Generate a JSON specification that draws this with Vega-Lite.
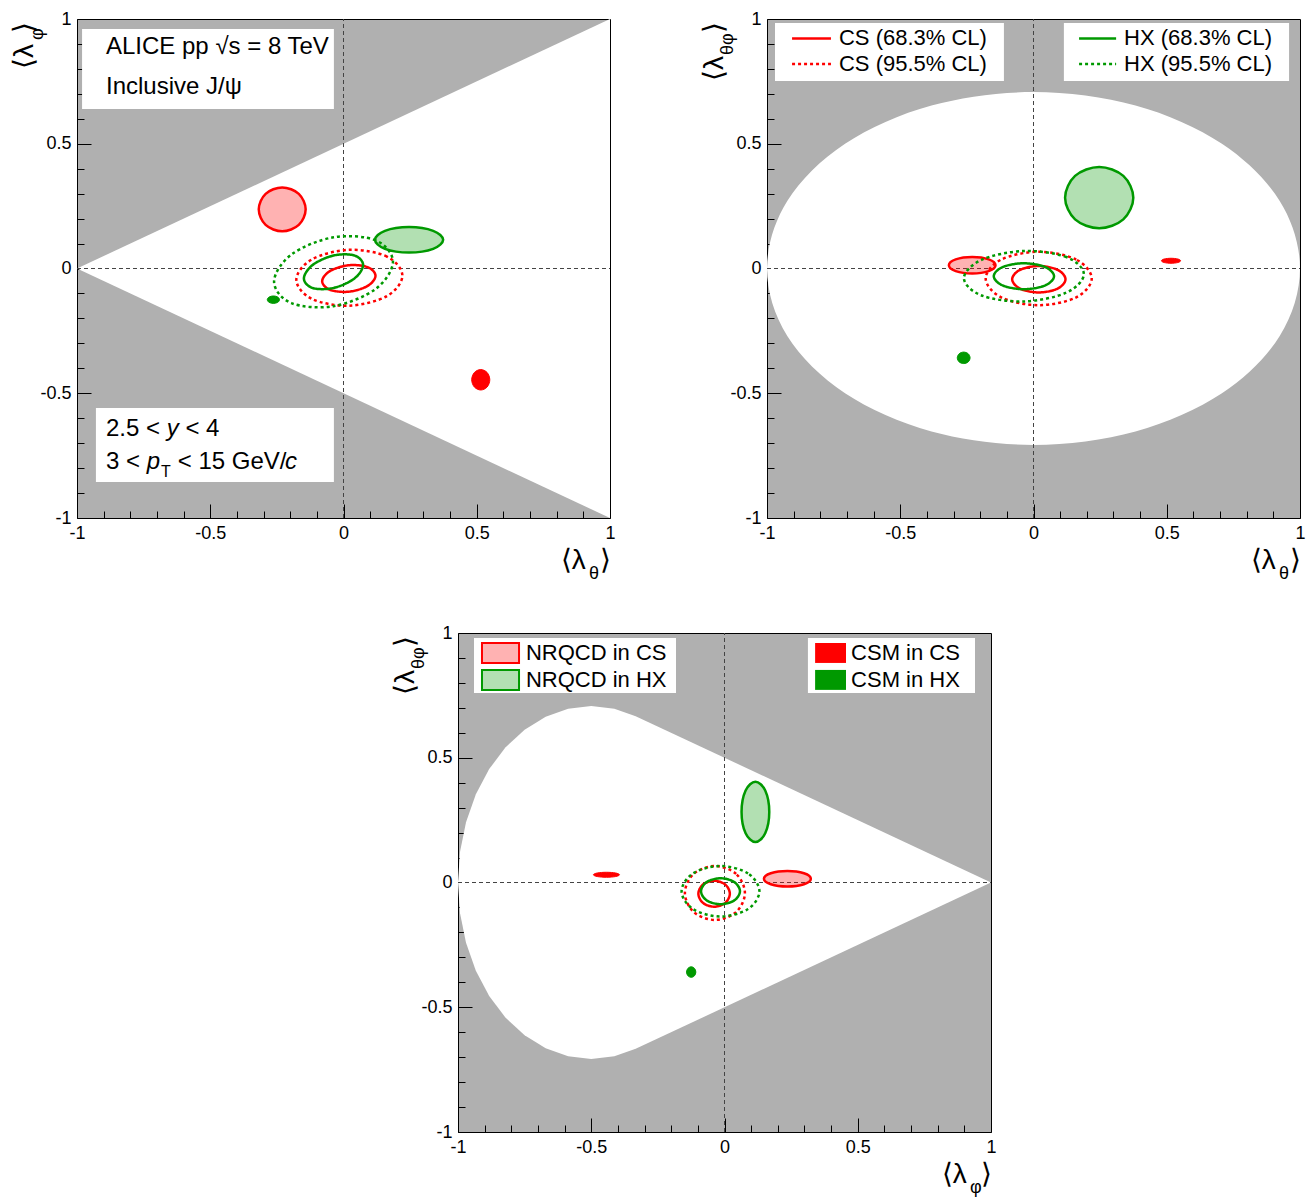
{
  "$schema": "https://vega.github.io/schema/vega-lite/v6.json",
  "background": "white",
  "padding": {"left": 10, "top": 9, "right": 0, "bottom": 0},
  "config": {"font": "Liberation Sans", "text": {"font": "Liberation Sans", "color": "#000000"}},
  "datasets": {
    "region": [
      {"p":1,"i":0,"x":-1,"y":0},{"p":1,"i":1,"x":1,"y":1},{"p":1,"i":2,"x":1,"y":-1},
      {"p":2,"i":0,"x":1,"y":0},{"p":2,"i":1,"x":0.92388,"y":0.2706},{"p":2,"i":2,"x":0.70711,"y":0.5},{"p":2,"i":3,"x":0.38268,"y":0.65328},{"p":2,"i":4,"x":0,"y":0.70711},{"p":2,"i":5,"x":-0.38268,"y":0.65328},{"p":2,"i":6,"x":-0.70711,"y":0.5},{"p":2,"i":7,"x":-0.92388,"y":0.2706},{"p":2,"i":8,"x":-1,"y":0},{"p":2,"i":9,"x":-0.92388,"y":-0.2706},{"p":2,"i":10,"x":-0.70711,"y":-0.5},{"p":2,"i":11,"x":-0.38268,"y":-0.65328},{"p":2,"i":12,"x":0,"y":-0.70711},{"p":2,"i":13,"x":0.38268,"y":-0.65328},{"p":2,"i":14,"x":0.70711,"y":-0.5},{"p":2,"i":15,"x":0.92388,"y":-0.2706},
      {"p":3,"i":0,"x":1,"y":0},{"p":3,"i":1,"x":-0.3333,"y":0.6667},{"p":3,"i":2,"x":-0.4132,"y":0.6964},{"p":3,"i":3,"x":-0.5,"y":0.7071},{"p":3,"i":4,"x":-0.5868,"y":0.6964},{"p":3,"i":5,"x":-0.671,"y":0.6645},{"p":3,"i":6,"x":-0.75,"y":0.6124},{"p":3,"i":7,"x":-0.8214,"y":0.5417},{"p":3,"i":8,"x":-0.883,"y":0.4545},{"p":3,"i":9,"x":-0.933,"y":0.3536},{"p":3,"i":10,"x":-0.9699,"y":0.2419},{"p":3,"i":11,"x":-0.9924,"y":0.1228},{"p":3,"i":12,"x":-1,"y":0},{"p":3,"i":13,"x":-0.9924,"y":-0.1228},{"p":3,"i":14,"x":-0.9699,"y":-0.2419},{"p":3,"i":15,"x":-0.933,"y":-0.3536},{"p":3,"i":16,"x":-0.883,"y":-0.4545},{"p":3,"i":17,"x":-0.8214,"y":-0.5417},{"p":3,"i":18,"x":-0.75,"y":-0.6124},{"p":3,"i":19,"x":-0.671,"y":-0.6645},{"p":3,"i":20,"x":-0.5868,"y":-0.6964},{"p":3,"i":21,"x":-0.5,"y":-0.7071},{"p":3,"i":22,"x":-0.4132,"y":-0.6964},{"p":3,"i":23,"x":-0.3333,"y":-0.6667}
    ],
    "boxes": [
      {"p":1,"x":-0.981,"x2":-0.036,"y":0.96,"y2":0.639},
      {"p":1,"x":-0.929,"x2":-0.036,"y":-0.559,"y2":-0.856},
      {"p":2,"x":-0.97,"x2":-0.111,"y":0.984,"y2":0.752},
      {"p":2,"x":0.114,"x2":0.959,"y":0.984,"y2":0.752},
      {"p":3,"x":-0.94,"x2":-0.182,"y":0.98,"y2":0.76},
      {"p":3,"x":0.313,"x2":0.94,"y":0.98,"y2":0.76}
    ],
    "zero": [
      {"x":0,"x2":0,"y":-1,"y2":1},
      {"x":-1,"x2":1,"y":0,"y2":0}
    ],
    "legline": [
      {"f":"CS","k":"CL68","x":-0.906,"x2":-0.76,"y":0.922},
      {"f":"CS","k":"CL95","x":-0.906,"x2":-0.76,"y":0.82},
      {"f":"HX","k":"CL68","x":0.171,"x2":0.31,"y":0.922},
      {"f":"HX","k":"CL95","x":0.171,"x2":0.31,"y":0.82}
    ],
    "legbox": [
      {"f":"CS","k":"NRQCD","x":-0.91,"x2":-0.771,"y":0.96,"y2":0.88},
      {"f":"HX","k":"NRQCD","x":-0.91,"x2":-0.771,"y":0.852,"y2":0.772},
      {"f":"CS","k":"CSM","x":0.34,"x2":0.456,"y":0.96,"y2":0.88},
      {"f":"HX","k":"CSM","x":0.34,"x2":0.456,"y":0.852,"y2":0.772}
    ],
    "texts": [
      {"p":1,"r":"big","x":-0.8912,"y":0.8597,"t":"ALICE pp √s = 8 TeV"},
      {"p":1,"r":"big","x":-0.8912,"y":0.6994,"t":"Inclusive J/ψ"},
      {"p":1,"r":"big","x":-0.8912,"y":-0.6713,"t":"2.5 <"},
      {"p":1,"r":"bigi","x":-0.6634,"y":-0.6713,"t":"y"},
      {"p":1,"r":"big","x":-0.5932,"y":-0.6713,"t":"< 4"},
      {"p":1,"r":"big","x":-0.8912,"y":-0.8036,"t":"3 <"},
      {"p":1,"r":"bigi","x":-0.7385,"y":-0.8036,"t":"p"},
      {"p":1,"r":"small","x":-0.6848,"y":-0.8357,"t":"T"},
      {"p":1,"r":"big","x":-0.6221,"y":-0.8036,"t":"< 15 GeV/"},
      {"p":1,"r":"bigi","x":-0.2195,"y":-0.8036,"t":"c"},
      {"p":1,"r":"tt","x":0.815,"y":-1.2044,"t":"⟨λ"},
      {"p":1,"r":"ts","x":0.921,"y":-1.246,"t":"θ"},
      {"p":1,"r":"tt","x":0.9625,"y":-1.2044,"t":"⟩"},
      {"p":1,"r":"yt","x":-1.165,"y":0.7996,"t":"⟨λ"},
      {"p":1,"r":"ys","x":-1.127,"y":0.9158,"t":"φ"},
      {"p":1,"r":"yt","x":-1.165,"y":0.944,"t":"⟩"},
      {"p":2,"r":"tt","x":0.815,"y":-1.2044,"t":"⟨λ"},
      {"p":2,"r":"ts","x":0.921,"y":-1.246,"t":"θ"},
      {"p":2,"r":"tt","x":0.9625,"y":-1.2044,"t":"⟩"},
      {"p":2,"r":"yt","x":-1.165,"y":0.7515,"t":"⟨λ"},
      {"p":2,"r":"ys","x":-1.127,"y":0.8557,"t":"θφ"},
      {"p":2,"r":"yt","x":-1.165,"y":0.9439,"t":"⟩"},
      {"p":2,"r":"leg","x":-0.73,"y":0.922,"t":"CS (68.3% CL)"},
      {"p":2,"r":"leg","x":-0.73,"y":0.82,"t":"CS (95.5% CL)"},
      {"p":2,"r":"leg","x":0.34,"y":0.922,"t":"HX (68.3% CL)"},
      {"p":2,"r":"leg","x":0.34,"y":0.82,"t":"HX (95.5% CL)"},
      {"p":3,"r":"tt","x":0.815,"y":-1.2044,"t":"⟨λ"},
      {"p":3,"r":"ts","x":0.921,"y":-1.246,"t":"φ"},
      {"p":3,"r":"tt","x":0.9625,"y":-1.2044,"t":"⟩"},
      {"p":3,"r":"yt","x":-1.165,"y":0.7515,"t":"⟨λ"},
      {"p":3,"r":"ys","x":-1.127,"y":0.8557,"t":"θφ"},
      {"p":3,"r":"yt","x":-1.165,"y":0.9439,"t":"⟩"},
      {"p":3,"r":"leg","x":-0.745,"y":0.92,"t":"NRQCD in CS"},
      {"p":3,"r":"leg","x":-0.745,"y":0.812,"t":"NRQCD in HX"},
      {"p":3,"r":"leg","x":0.475,"y":0.92,"t":"CSM in CS"},
      {"p":3,"r":"leg","x":0.475,"y":0.812,"t":"CSM in HX"}
    ],
    "ell": [
      {"p":1,"id":"1a","f":"CS","k":"NRQCD","i":0,"x":-0.142,"y":0.237},{"p":1,"id":"1a","f":"CS","k":"NRQCD","i":1,"x":-0.1678,"y":0.2992},{"p":1,"id":"1a","f":"CS","k":"NRQCD","i":2,"x":-0.23,"y":0.325},{"p":1,"id":"1a","f":"CS","k":"NRQCD","i":3,"x":-0.2922,"y":0.2992},{"p":1,"id":"1a","f":"CS","k":"NRQCD","i":4,"x":-0.318,"y":0.237},{"p":1,"id":"1a","f":"CS","k":"NRQCD","i":5,"x":-0.2922,"y":0.1748},{"p":1,"id":"1a","f":"CS","k":"NRQCD","i":6,"x":-0.23,"y":0.149},{"p":1,"id":"1a","f":"CS","k":"NRQCD","i":7,"x":-0.1678,"y":0.1748},
      {"p":1,"id":"1b","f":"HX","k":"NRQCD","i":0,"x":0.374,"y":0.115},{"p":1,"id":"1b","f":"HX","k":"NRQCD","i":1,"x":0.3365,"y":0.1511},{"p":1,"id":"1b","f":"HX","k":"NRQCD","i":2,"x":0.246,"y":0.166},{"p":1,"id":"1b","f":"HX","k":"NRQCD","i":3,"x":0.1555,"y":0.1511},{"p":1,"id":"1b","f":"HX","k":"NRQCD","i":4,"x":0.118,"y":0.115},{"p":1,"id":"1b","f":"HX","k":"NRQCD","i":5,"x":0.1555,"y":0.0789},{"p":1,"id":"1b","f":"HX","k":"NRQCD","i":6,"x":0.246,"y":0.064},{"p":1,"id":"1b","f":"HX","k":"NRQCD","i":7,"x":0.3365,"y":0.0789},
      {"p":1,"id":"1c","f":"CS","k":"CL68","i":0,"x":0.12,"y":-0.029},{"p":1,"id":"1c","f":"CS","k":"CL68","i":1,"x":0.0907,"y":0.0053},{"p":1,"id":"1c","f":"CS","k":"CL68","i":2,"x":0.02,"y":0.013},{"p":1,"id":"1c","f":"CS","k":"CL68","i":3,"x":-0.0507,"y":-0.0103},{"p":1,"id":"1c","f":"CS","k":"CL68","i":4,"x":-0.08,"y":-0.051},{"p":1,"id":"1c","f":"CS","k":"CL68","i":5,"x":-0.0507,"y":-0.0853},{"p":1,"id":"1c","f":"CS","k":"CL68","i":6,"x":0.02,"y":-0.093},{"p":1,"id":"1c","f":"CS","k":"CL68","i":7,"x":0.0907,"y":-0.0697},
      {"p":1,"id":"1d","f":"HX","k":"CL68","i":0,"x":0.0735,"y":0.014},{"p":1,"id":"1d","f":"HX","k":"CL68","i":1,"x":0.041,"y":0.0521},{"p":1,"id":"1d","f":"HX","k":"CL68","i":2,"x":-0.0375,"y":0.052},{"p":1,"id":"1d","f":"HX","k":"CL68","i":3,"x":-0.116,"y":0.0139},{"p":1,"id":"1d","f":"HX","k":"CL68","i":4,"x":-0.1485,"y":-0.04},{"p":1,"id":"1d","f":"HX","k":"CL68","i":5,"x":-0.116,"y":-0.0781},{"p":1,"id":"1d","f":"HX","k":"CL68","i":6,"x":-0.0375,"y":-0.078},{"p":1,"id":"1d","f":"HX","k":"CL68","i":7,"x":0.041,"y":-0.0399},
      {"p":1,"id":"1e","f":"CS","k":"CL95","i":0,"x":0.221,"y":-0.029},{"p":1,"id":"1e","f":"CS","k":"CL95","i":1,"x":0.1627,"y":0.0479},{"p":1,"id":"1e","f":"CS","k":"CL95","i":2,"x":0.022,"y":0.075},{"p":1,"id":"1e","f":"CS","k":"CL95","i":3,"x":-0.1187,"y":0.0365},{"p":1,"id":"1e","f":"CS","k":"CL95","i":4,"x":-0.177,"y":-0.045},{"p":1,"id":"1e","f":"CS","k":"CL95","i":5,"x":-0.1187,"y":-0.1219},{"p":1,"id":"1e","f":"CS","k":"CL95","i":6,"x":0.022,"y":-0.149},{"p":1,"id":"1e","f":"CS","k":"CL95","i":7,"x":0.1627,"y":-0.1105},
      {"p":1,"id":"1f","f":"HX","k":"CL95","i":0,"x":0.1855,"y":0.027},{"p":1,"id":"1f","f":"HX","k":"CL95","i":1,"x":0.1202,"y":0.1129},{"p":1,"id":"1f","f":"HX","k":"CL95","i":2,"x":-0.0375,"y":0.125},{"p":1,"id":"1f","f":"HX","k":"CL95","i":3,"x":-0.1952,"y":0.0563},{"p":1,"id":"1f","f":"HX","k":"CL95","i":4,"x":-0.2605,"y":-0.053},{"p":1,"id":"1f","f":"HX","k":"CL95","i":5,"x":-0.1952,"y":-0.1389},{"p":1,"id":"1f","f":"HX","k":"CL95","i":6,"x":-0.0375,"y":-0.151},{"p":1,"id":"1f","f":"HX","k":"CL95","i":7,"x":0.1202,"y":-0.0823},
      {"p":1,"id":"1g","f":"HX","k":"CSM","i":0,"x":-0.24,"y":-0.125},{"p":1,"id":"1g","f":"HX","k":"CSM","i":1,"x":-0.2467,"y":-0.1144},{"p":1,"id":"1g","f":"HX","k":"CSM","i":2,"x":-0.263,"y":-0.11},{"p":1,"id":"1g","f":"HX","k":"CSM","i":3,"x":-0.2793,"y":-0.1144},{"p":1,"id":"1g","f":"HX","k":"CSM","i":4,"x":-0.286,"y":-0.125},{"p":1,"id":"1g","f":"HX","k":"CSM","i":5,"x":-0.2793,"y":-0.1356},{"p":1,"id":"1g","f":"HX","k":"CSM","i":6,"x":-0.263,"y":-0.14},{"p":1,"id":"1g","f":"HX","k":"CSM","i":7,"x":-0.2467,"y":-0.1356},
      {"p":1,"id":"1h","f":"CS","k":"CSM","i":0,"x":0.549,"y":-0.446},{"p":1,"id":"1h","f":"CS","k":"CSM","i":1,"x":0.539,"y":-0.417},{"p":1,"id":"1h","f":"CS","k":"CSM","i":2,"x":0.515,"y":-0.405},{"p":1,"id":"1h","f":"CS","k":"CSM","i":3,"x":0.491,"y":-0.417},{"p":1,"id":"1h","f":"CS","k":"CSM","i":4,"x":0.481,"y":-0.446},{"p":1,"id":"1h","f":"CS","k":"CSM","i":5,"x":0.491,"y":-0.475},{"p":1,"id":"1h","f":"CS","k":"CSM","i":6,"x":0.515,"y":-0.487},{"p":1,"id":"1h","f":"CS","k":"CSM","i":7,"x":0.539,"y":-0.475},
      {"p":2,"id":"2a","f":"HX","k":"NRQCD","i":0,"x":0.3745,"y":0.284},{"p":2,"id":"2a","f":"HX","k":"NRQCD","i":1,"x":0.337,"y":0.371},{"p":2,"id":"2a","f":"HX","k":"NRQCD","i":2,"x":0.2465,"y":0.407},{"p":2,"id":"2a","f":"HX","k":"NRQCD","i":3,"x":0.156,"y":0.371},{"p":2,"id":"2a","f":"HX","k":"NRQCD","i":4,"x":0.1185,"y":0.284},{"p":2,"id":"2a","f":"HX","k":"NRQCD","i":5,"x":0.156,"y":0.197},{"p":2,"id":"2a","f":"HX","k":"NRQCD","i":6,"x":0.2465,"y":0.161},{"p":2,"id":"2a","f":"HX","k":"NRQCD","i":7,"x":0.337,"y":0.197},
      {"p":2,"id":"2b","f":"CS","k":"NRQCD","i":0,"x":-0.1425,"y":0.013},{"p":2,"id":"2b","f":"CS","k":"NRQCD","i":1,"x":-0.1681,"y":0.0363},{"p":2,"id":"2b","f":"CS","k":"NRQCD","i":2,"x":-0.23,"y":0.046},{"p":2,"id":"2b","f":"CS","k":"NRQCD","i":3,"x":-0.2919,"y":0.0363},{"p":2,"id":"2b","f":"CS","k":"NRQCD","i":4,"x":-0.3175,"y":0.013},{"p":2,"id":"2b","f":"CS","k":"NRQCD","i":5,"x":-0.2919,"y":-0.0103},{"p":2,"id":"2b","f":"CS","k":"NRQCD","i":6,"x":-0.23,"y":-0.02},{"p":2,"id":"2b","f":"CS","k":"NRQCD","i":7,"x":-0.1681,"y":-0.0103},
      {"p":2,"id":"2c","f":"CS","k":"CSM","i":0,"x":0.552,"y":0.031},{"p":2,"id":"2c","f":"CS","k":"CSM","i":1,"x":0.5415,"y":0.0381},{"p":2,"id":"2c","f":"CS","k":"CSM","i":2,"x":0.516,"y":0.041},{"p":2,"id":"2c","f":"CS","k":"CSM","i":3,"x":0.4905,"y":0.0381},{"p":2,"id":"2c","f":"CS","k":"CSM","i":4,"x":0.48,"y":0.031},{"p":2,"id":"2c","f":"CS","k":"CSM","i":5,"x":0.4905,"y":0.0239},{"p":2,"id":"2c","f":"CS","k":"CSM","i":6,"x":0.516,"y":0.021},{"p":2,"id":"2c","f":"CS","k":"CSM","i":7,"x":0.5415,"y":0.0239},
      {"p":2,"id":"2d","f":"HX","k":"CSM","i":0,"x":-0.238,"y":-0.358},{"p":2,"id":"2d","f":"HX","k":"CSM","i":1,"x":-0.245,"y":-0.3417},{"p":2,"id":"2d","f":"HX","k":"CSM","i":2,"x":-0.262,"y":-0.335},{"p":2,"id":"2d","f":"HX","k":"CSM","i":3,"x":-0.279,"y":-0.3417},{"p":2,"id":"2d","f":"HX","k":"CSM","i":4,"x":-0.286,"y":-0.358},{"p":2,"id":"2d","f":"HX","k":"CSM","i":5,"x":-0.279,"y":-0.3743},{"p":2,"id":"2d","f":"HX","k":"CSM","i":6,"x":-0.262,"y":-0.381},{"p":2,"id":"2d","f":"HX","k":"CSM","i":7,"x":-0.245,"y":-0.3743},
      {"p":2,"id":"2e","f":"CS","k":"CL68","i":0,"x":0.12,"y":-0.043},{"p":2,"id":"2e","f":"CS","k":"CL68","i":1,"x":0.0907,"y":-0.0055},{"p":2,"id":"2e","f":"CS","k":"CL68","i":2,"x":0.02,"y":0.01},{"p":2,"id":"2e","f":"CS","k":"CL68","i":3,"x":-0.0507,"y":-0.0055},{"p":2,"id":"2e","f":"CS","k":"CL68","i":4,"x":-0.08,"y":-0.043},{"p":2,"id":"2e","f":"CS","k":"CL68","i":5,"x":-0.0507,"y":-0.0805},{"p":2,"id":"2e","f":"CS","k":"CL68","i":6,"x":0.02,"y":-0.096},{"p":2,"id":"2e","f":"CS","k":"CL68","i":7,"x":0.0907,"y":-0.0805},
      {"p":2,"id":"2f","f":"HX","k":"CL68","i":0,"x":0.077,"y":-0.031},{"p":2,"id":"2f","f":"HX","k":"CL68","i":1,"x":0.0439,"y":0.0058},{"p":2,"id":"2f","f":"HX","k":"CL68","i":2,"x":-0.036,"y":0.021},{"p":2,"id":"2f","f":"HX","k":"CL68","i":3,"x":-0.1159,"y":0.0058},{"p":2,"id":"2f","f":"HX","k":"CL68","i":4,"x":-0.149,"y":-0.031},{"p":2,"id":"2f","f":"HX","k":"CL68","i":5,"x":-0.1159,"y":-0.0678},{"p":2,"id":"2f","f":"HX","k":"CL68","i":6,"x":-0.036,"y":-0.083},{"p":2,"id":"2f","f":"HX","k":"CL68","i":7,"x":0.0439,"y":-0.0678},
      {"p":2,"id":"2g","f":"CS","k":"CL95","i":0,"x":0.2185,"y":-0.04},{"p":2,"id":"2g","f":"CS","k":"CL95","i":1,"x":0.1602,"y":0.0357},{"p":2,"id":"2g","f":"CS","k":"CL95","i":2,"x":0.0195,"y":0.067},{"p":2,"id":"2g","f":"CS","k":"CL95","i":3,"x":-0.1212,"y":0.0357},{"p":2,"id":"2g","f":"CS","k":"CL95","i":4,"x":-0.1795,"y":-0.04},{"p":2,"id":"2g","f":"CS","k":"CL95","i":5,"x":-0.1212,"y":-0.1157},{"p":2,"id":"2g","f":"CS","k":"CL95","i":6,"x":0.0195,"y":-0.147},{"p":2,"id":"2g","f":"CS","k":"CL95","i":7,"x":0.1602,"y":-0.1157},
      {"p":2,"id":"2h","f":"HX","k":"CL95","i":0,"x":0.189,"y":-0.023},{"p":2,"id":"2h","f":"HX","k":"CL95","i":1,"x":0.1231,"y":0.0461},{"p":2,"id":"2h","f":"HX","k":"CL95","i":2,"x":-0.036,"y":0.07},{"p":2,"id":"2h","f":"HX","k":"CL95","i":3,"x":-0.1951,"y":0.0348},{"p":2,"id":"2h","f":"HX","k":"CL95","i":4,"x":-0.261,"y":-0.039},{"p":2,"id":"2h","f":"HX","k":"CL95","i":5,"x":-0.1951,"y":-0.1081},{"p":2,"id":"2h","f":"HX","k":"CL95","i":6,"x":-0.036,"y":-0.132},{"p":2,"id":"2h","f":"HX","k":"CL95","i":7,"x":0.1231,"y":-0.0968},
      {"p":3,"id":"3a","f":"HX","k":"NRQCD","i":0,"x":0.168,"y":0.283},{"p":3,"id":"3a","f":"HX","k":"NRQCD","i":1,"x":0.1528,"y":0.3686},{"p":3,"id":"3a","f":"HX","k":"NRQCD","i":2,"x":0.116,"y":0.404},{"p":3,"id":"3a","f":"HX","k":"NRQCD","i":3,"x":0.0792,"y":0.3686},{"p":3,"id":"3a","f":"HX","k":"NRQCD","i":4,"x":0.064,"y":0.283},{"p":3,"id":"3a","f":"HX","k":"NRQCD","i":5,"x":0.0792,"y":0.1974},{"p":3,"id":"3a","f":"HX","k":"NRQCD","i":6,"x":0.116,"y":0.162},{"p":3,"id":"3a","f":"HX","k":"NRQCD","i":7,"x":0.1528,"y":0.1974},
      {"p":3,"id":"3b","f":"CS","k":"NRQCD","i":0,"x":0.324,"y":0.015},{"p":3,"id":"3b","f":"CS","k":"NRQCD","i":1,"x":0.2982,"y":0.0369},{"p":3,"id":"3b","f":"CS","k":"NRQCD","i":2,"x":0.236,"y":0.046},{"p":3,"id":"3b","f":"CS","k":"NRQCD","i":3,"x":0.1738,"y":0.0369},{"p":3,"id":"3b","f":"CS","k":"NRQCD","i":4,"x":0.148,"y":0.015},{"p":3,"id":"3b","f":"CS","k":"NRQCD","i":5,"x":0.1738,"y":-0.0069},{"p":3,"id":"3b","f":"CS","k":"NRQCD","i":6,"x":0.236,"y":-0.016},{"p":3,"id":"3b","f":"CS","k":"NRQCD","i":7,"x":0.2982,"y":-0.0069},
      {"p":3,"id":"3c","f":"CS","k":"CSM","i":0,"x":-0.394,"y":0.031},{"p":3,"id":"3c","f":"CS","k":"CSM","i":1,"x":-0.4084,"y":0.0381},{"p":3,"id":"3c","f":"CS","k":"CSM","i":2,"x":-0.443,"y":0.041},{"p":3,"id":"3c","f":"CS","k":"CSM","i":3,"x":-0.4776,"y":0.0381},{"p":3,"id":"3c","f":"CS","k":"CSM","i":4,"x":-0.492,"y":0.031},{"p":3,"id":"3c","f":"CS","k":"CSM","i":5,"x":-0.4776,"y":0.0239},{"p":3,"id":"3c","f":"CS","k":"CSM","i":6,"x":-0.443,"y":0.021},{"p":3,"id":"3c","f":"CS","k":"CSM","i":7,"x":-0.4084,"y":0.0239},
      {"p":3,"id":"3d","f":"HX","k":"CSM","i":0,"x":-0.1075,"y":-0.359},{"p":3,"id":"3d","f":"HX","k":"CSM","i":1,"x":-0.1126,"y":-0.3442},{"p":3,"id":"3d","f":"HX","k":"CSM","i":2,"x":-0.125,"y":-0.338},{"p":3,"id":"3d","f":"HX","k":"CSM","i":3,"x":-0.1374,"y":-0.3442},{"p":3,"id":"3d","f":"HX","k":"CSM","i":4,"x":-0.1425,"y":-0.359},{"p":3,"id":"3d","f":"HX","k":"CSM","i":5,"x":-0.1374,"y":-0.3738},{"p":3,"id":"3d","f":"HX","k":"CSM","i":6,"x":-0.125,"y":-0.38},{"p":3,"id":"3d","f":"HX","k":"CSM","i":7,"x":-0.1126,"y":-0.3738},
      {"p":3,"id":"3e","f":"CS","k":"CL68","i":0,"x":0.02,"y":-0.045},{"p":3,"id":"3e","f":"CS","k":"CL68","i":1,"x":0.0027,"y":-0.0082},{"p":3,"id":"3e","f":"CS","k":"CL68","i":2,"x":-0.039,"y":0.007},{"p":3,"id":"3e","f":"CS","k":"CL68","i":3,"x":-0.0807,"y":-0.0082},{"p":3,"id":"3e","f":"CS","k":"CL68","i":4,"x":-0.098,"y":-0.045},{"p":3,"id":"3e","f":"CS","k":"CL68","i":5,"x":-0.0807,"y":-0.0818},{"p":3,"id":"3e","f":"CS","k":"CL68","i":6,"x":-0.039,"y":-0.097},{"p":3,"id":"3e","f":"CS","k":"CL68","i":7,"x":0.0027,"y":-0.0818},
      {"p":3,"id":"3f","f":"HX","k":"CL68","i":0,"x":0.058,"y":-0.035},{"p":3,"id":"3f","f":"HX","k":"CL68","i":1,"x":0.0366,"y":0.0018},{"p":3,"id":"3f","f":"HX","k":"CL68","i":2,"x":-0.015,"y":0.017},{"p":3,"id":"3f","f":"HX","k":"CL68","i":3,"x":-0.0666,"y":0.0018},{"p":3,"id":"3f","f":"HX","k":"CL68","i":4,"x":-0.088,"y":-0.035},{"p":3,"id":"3f","f":"HX","k":"CL68","i":5,"x":-0.0666,"y":-0.0718},{"p":3,"id":"3f","f":"HX","k":"CL68","i":6,"x":-0.015,"y":-0.087},{"p":3,"id":"3f","f":"HX","k":"CL68","i":7,"x":0.0366,"y":-0.0718},
      {"p":3,"id":"3g","f":"CS","k":"CL95","i":0,"x":0.0766,"y":-0.042},{"p":3,"id":"3g","f":"CS","k":"CL95","i":1,"x":0.0436,"y":0.0344},{"p":3,"id":"3g","f":"CS","k":"CL95","i":2,"x":-0.036,"y":0.066},{"p":3,"id":"3g","f":"CS","k":"CL95","i":3,"x":-0.1156,"y":0.0344},{"p":3,"id":"3g","f":"CS","k":"CL95","i":4,"x":-0.1486,"y":-0.042},{"p":3,"id":"3g","f":"CS","k":"CL95","i":5,"x":-0.1156,"y":-0.1184},{"p":3,"id":"3g","f":"CS","k":"CL95","i":6,"x":-0.036,"y":-0.15},{"p":3,"id":"3g","f":"CS","k":"CL95","i":7,"x":0.0436,"y":-0.1184},
      {"p":3,"id":"3h","f":"HX","k":"CL95","i":0,"x":0.131,"y":-0.035},{"p":3,"id":"3h","f":"HX","k":"CL95","i":1,"x":0.0882,"y":0.0364},{"p":3,"id":"3h","f":"HX","k":"CL95","i":2,"x":-0.015,"y":0.066},{"p":3,"id":"3h","f":"HX","k":"CL95","i":3,"x":-0.1182,"y":0.0364},{"p":3,"id":"3h","f":"HX","k":"CL95","i":4,"x":-0.161,"y":-0.035},{"p":3,"id":"3h","f":"HX","k":"CL95","i":5,"x":-0.1182,"y":-0.1064},{"p":3,"id":"3h","f":"HX","k":"CL95","i":6,"x":-0.015,"y":-0.136},{"p":3,"id":"3h","f":"HX","k":"CL95","i":7,"x":0.0882,"y":-0.1064}
    ]
  },
  "spacing": 39,
  "vconcat": [
    {
      "spacing": 84,
      "hconcat": [
        {
          "width": 533, "height": 499,
          "view": {"fill": "#b0b0b0", "stroke": "#000000", "strokeWidth": 1},
          "encoding": {
            "x": {"field": "x", "type": "quantitative", "scale": {"domain": [-1, 1], "nice": false, "zero": false},
              "axis": {"values": [-1,-0.9,-0.8,-0.7,-0.6,-0.5,-0.4,-0.3,-0.2,-0.1,0,0.1,0.2,0.3,0.4,0.5,0.6,0.7,0.8,0.9,1], "labelExpr": "datum.value % 0.5 == 0 ? toString(datum.value) : ''", "tickSize": {"condition": {"test": "datum.value % 0.5 == 0", "value": -14}, "value": -7}, "tickColor": "#000000", "tickWidth": 1, "labelPadding": 20, "labelFont": "Liberation Sans", "labelFontSize": 18, "labelColor": "#000000", "labelFlush": false, "labelOverlap": false, "labelAngle": 0, "domain": false, "grid": false, "title": null}},
            "y": {"field": "y", "type": "quantitative", "scale": {"domain": [-1, 1], "nice": false, "zero": false},
              "axis": {"values": [-1,-0.9,-0.8,-0.7,-0.6,-0.5,-0.4,-0.3,-0.2,-0.1,0,0.1,0.2,0.3,0.4,0.5,0.6,0.7,0.8,0.9,1], "labelExpr": "datum.value % 0.5 == 0 ? toString(datum.value) : ''", "tickSize": {"condition": {"test": "datum.value % 0.5 == 0", "value": -14}, "value": -7}, "tickColor": "#000000", "tickWidth": 1, "labelPadding": 20, "labelFont": "Liberation Sans", "labelFontSize": 18, "labelColor": "#000000", "labelFlush": false, "labelOverlap": false, "domain": false, "grid": false, "title": null}}
          },
          "layer": [
            {"data": {"name": "region"}, "transform": [{"filter": "datum.p == 1"}], "mark": {"type": "line", "interpolate": "linear-closed", "fill": "#ffffff", "stroke": "#ffffff", "strokeWidth": 0}, "encoding": {"order": {"field": "i", "type": "quantitative"}}},
            {"data": {"name": "boxes"}, "transform": [{"filter": "datum.p == 1"}], "mark": {"type": "rect", "fill": "#ffffff", "strokeWidth": 0}, "encoding": {"x2": {"field": "x2"}, "y2": {"field": "y2"}}},
            {"data": {"name": "zero"}, "mark": {"type": "rule", "stroke": "#444444", "strokeWidth": 1, "strokeDash": [4, 3]}, "encoding": {"x2": {"field": "x2"}, "y2": {"field": "y2"}}},
            {"data": {"name": "ell"}, "transform": [{"filter": "datum.p == 1 && datum.k == 'NRQCD' && datum.f == 'CS'"}], "mark": {"type": "line", "interpolate": "cardinal-closed", "stroke": "#ff0000", "strokeWidth": 2.5, "fill": "#ff0000", "fillOpacity": 0.3}, "encoding": {"detail": {"field": "id"}, "order": {"field": "i", "type": "quantitative"}}},
            {"data": {"name": "ell"}, "transform": [{"filter": "datum.p == 1 && datum.k == 'NRQCD' && datum.f == 'HX'"}], "mark": {"type": "line", "interpolate": "cardinal-closed", "stroke": "#009900", "strokeWidth": 2.5, "fill": "#009900", "fillOpacity": 0.3}, "encoding": {"detail": {"field": "id"}, "order": {"field": "i", "type": "quantitative"}}},
            {"data": {"name": "ell"}, "transform": [{"filter": "datum.p == 1 && datum.k == 'CSM' && datum.f == 'CS'"}], "mark": {"type": "line", "interpolate": "cardinal-closed", "stroke": "#ff0000", "strokeWidth": 1, "fill": "#ff0000"}, "encoding": {"detail": {"field": "id"}, "order": {"field": "i", "type": "quantitative"}}},
            {"data": {"name": "ell"}, "transform": [{"filter": "datum.p == 1 && datum.k == 'CSM' && datum.f == 'HX'"}], "mark": {"type": "line", "interpolate": "cardinal-closed", "stroke": "#009900", "strokeWidth": 1, "fill": "#009900"}, "encoding": {"detail": {"field": "id"}, "order": {"field": "i", "type": "quantitative"}}},
            {"data": {"name": "ell"}, "transform": [{"filter": "datum.p == 1 && (datum.k == 'CL68' || datum.k == 'CL95')"}], "mark": {"type": "line", "interpolate": "cardinal-closed", "strokeWidth": 2.5}, "encoding": {"color": {"field": "f", "type": "nominal", "scale": {"domain": ["CS", "HX"], "range": ["#ff0000", "#009900"]}, "legend": null}, "strokeDash": {"field": "k", "type": "nominal", "scale": {"domain": ["CL68", "CL95"], "range": [[1, 0], [3, 3]]}, "legend": null}, "detail": {"field": "id"}, "order": {"field": "i", "type": "quantitative"}}},
            {"data": {"name": "texts"}, "transform": [{"filter": "datum.p == 1 && datum.r == 'big'"}], "mark": {"type": "text", "align": "left", "baseline": "alphabetic", "fontSize": 24, "font": "Liberation Sans", "color": "#000000"}, "encoding": {"text": {"field": "t"}}},
            {"data": {"name": "texts"}, "transform": [{"filter": "datum.p == 1 && datum.r == 'bigi'"}], "mark": {"type": "text", "align": "left", "baseline": "alphabetic", "fontSize": 24, "fontStyle": "italic", "font": "Liberation Sans", "color": "#000000"}, "encoding": {"text": {"field": "t"}}},
            {"data": {"name": "texts"}, "transform": [{"filter": "datum.p == 1 && datum.r == 'small'"}], "mark": {"type": "text", "align": "left", "baseline": "alphabetic", "fontSize": 16, "font": "Liberation Sans", "color": "#000000"}, "encoding": {"text": {"field": "t"}}},
            {"data": {"name": "texts"}, "transform": [{"filter": "datum.p == 1 && datum.r == 'tt'"}], "mark": {"type": "text", "align": "left", "baseline": "alphabetic", "fontSize": 28, "font": "Liberation Sans", "color": "#000000"}, "encoding": {"text": {"field": "t"}}},
            {"data": {"name": "texts"}, "transform": [{"filter": "datum.p == 1 && datum.r == 'ts'"}], "mark": {"type": "text", "align": "left", "baseline": "alphabetic", "fontSize": 18, "font": "Liberation Sans", "color": "#000000"}, "encoding": {"text": {"field": "t"}}},
            {"data": {"name": "texts"}, "transform": [{"filter": "datum.p == 1 && datum.r == 'yt'"}], "mark": {"type": "text", "align": "left", "baseline": "alphabetic", "angle": 270, "fontSize": 28, "font": "Liberation Sans", "color": "#000000"}, "encoding": {"text": {"field": "t"}}},
            {"data": {"name": "texts"}, "transform": [{"filter": "datum.p == 1 && datum.r == 'ys'"}], "mark": {"type": "text", "align": "left", "baseline": "alphabetic", "angle": 270, "fontSize": 18, "font": "Liberation Sans", "color": "#000000"}, "encoding": {"text": {"field": "t"}}}
          ]
        },
        {
          "width": 533, "height": 499,
          "view": {"fill": "#b0b0b0", "stroke": "#000000", "strokeWidth": 1},
          "encoding": {
            "x": {"field": "x", "type": "quantitative", "scale": {"domain": [-1, 1], "nice": false, "zero": false},
              "axis": {"values": [-1,-0.9,-0.8,-0.7,-0.6,-0.5,-0.4,-0.3,-0.2,-0.1,0,0.1,0.2,0.3,0.4,0.5,0.6,0.7,0.8,0.9,1], "labelExpr": "datum.value % 0.5 == 0 ? toString(datum.value) : ''", "tickSize": {"condition": {"test": "datum.value % 0.5 == 0", "value": -14}, "value": -7}, "tickColor": "#000000", "tickWidth": 1, "labelPadding": 20, "labelFont": "Liberation Sans", "labelFontSize": 18, "labelColor": "#000000", "labelFlush": false, "labelOverlap": false, "labelAngle": 0, "domain": false, "grid": false, "title": null}},
            "y": {"field": "y", "type": "quantitative", "scale": {"domain": [-1, 1], "nice": false, "zero": false},
              "axis": {"values": [-1,-0.9,-0.8,-0.7,-0.6,-0.5,-0.4,-0.3,-0.2,-0.1,0,0.1,0.2,0.3,0.4,0.5,0.6,0.7,0.8,0.9,1], "labelExpr": "datum.value % 0.5 == 0 ? toString(datum.value) : ''", "tickSize": {"condition": {"test": "datum.value % 0.5 == 0", "value": -14}, "value": -7}, "tickColor": "#000000", "tickWidth": 1, "labelPadding": 20, "labelFont": "Liberation Sans", "labelFontSize": 18, "labelColor": "#000000", "labelFlush": false, "labelOverlap": false, "domain": false, "grid": false, "title": null}}
          },
          "layer": [
            {"data": {"name": "region"}, "transform": [{"filter": "datum.p == 2"}], "mark": {"type": "line", "interpolate": "cardinal-closed", "fill": "#ffffff", "stroke": "#ffffff", "strokeWidth": 0}, "encoding": {"order": {"field": "i", "type": "quantitative"}}},
            {"data": {"name": "boxes"}, "transform": [{"filter": "datum.p == 2"}], "mark": {"type": "rect", "fill": "#ffffff", "strokeWidth": 0}, "encoding": {"x2": {"field": "x2"}, "y2": {"field": "y2"}}},
            {"data": {"name": "zero"}, "mark": {"type": "rule", "stroke": "#444444", "strokeWidth": 1, "strokeDash": [4, 3]}, "encoding": {"x2": {"field": "x2"}, "y2": {"field": "y2"}}},
            {"data": {"name": "ell"}, "transform": [{"filter": "datum.p == 2 && datum.k == 'NRQCD' && datum.f == 'CS'"}], "mark": {"type": "line", "interpolate": "cardinal-closed", "stroke": "#ff0000", "strokeWidth": 2.5, "fill": "#ff0000", "fillOpacity": 0.3}, "encoding": {"detail": {"field": "id"}, "order": {"field": "i", "type": "quantitative"}}},
            {"data": {"name": "ell"}, "transform": [{"filter": "datum.p == 2 && datum.k == 'NRQCD' && datum.f == 'HX'"}], "mark": {"type": "line", "interpolate": "cardinal-closed", "stroke": "#009900", "strokeWidth": 2.5, "fill": "#009900", "fillOpacity": 0.3}, "encoding": {"detail": {"field": "id"}, "order": {"field": "i", "type": "quantitative"}}},
            {"data": {"name": "ell"}, "transform": [{"filter": "datum.p == 2 && datum.k == 'CSM' && datum.f == 'CS'"}], "mark": {"type": "line", "interpolate": "cardinal-closed", "stroke": "#ff0000", "strokeWidth": 1, "fill": "#ff0000"}, "encoding": {"detail": {"field": "id"}, "order": {"field": "i", "type": "quantitative"}}},
            {"data": {"name": "ell"}, "transform": [{"filter": "datum.p == 2 && datum.k == 'CSM' && datum.f == 'HX'"}], "mark": {"type": "line", "interpolate": "cardinal-closed", "stroke": "#009900", "strokeWidth": 1, "fill": "#009900"}, "encoding": {"detail": {"field": "id"}, "order": {"field": "i", "type": "quantitative"}}},
            {"data": {"name": "ell"}, "transform": [{"filter": "datum.p == 2 && (datum.k == 'CL68' || datum.k == 'CL95')"}], "mark": {"type": "line", "interpolate": "cardinal-closed", "strokeWidth": 2.5}, "encoding": {"color": {"field": "f", "type": "nominal", "scale": {"domain": ["CS", "HX"], "range": ["#ff0000", "#009900"]}, "legend": null}, "strokeDash": {"field": "k", "type": "nominal", "scale": {"domain": ["CL68", "CL95"], "range": [[1, 0], [3, 3]]}, "legend": null}, "detail": {"field": "id"}, "order": {"field": "i", "type": "quantitative"}}},
            {"data": {"name": "legline"}, "mark": {"type": "rule", "strokeWidth": 2.5}, "encoding": {"x2": {"field": "x2"}, "color": {"field": "f", "type": "nominal", "scale": {"domain": ["CS", "HX"], "range": ["#ff0000", "#009900"]}, "legend": null}, "strokeDash": {"field": "k", "type": "nominal", "scale": {"domain": ["CL68", "CL95"], "range": [[1, 0], [3, 3]]}, "legend": null}}},
            {"data": {"name": "texts"}, "transform": [{"filter": "datum.p == 2 && datum.r == 'leg'"}], "mark": {"type": "text", "align": "left", "baseline": "middle", "fontSize": 22, "font": "Liberation Sans", "color": "#000000"}, "encoding": {"text": {"field": "t"}}},
            {"data": {"name": "texts"}, "transform": [{"filter": "datum.p == 2 && datum.r == 'tt'"}], "mark": {"type": "text", "align": "left", "baseline": "alphabetic", "fontSize": 28, "font": "Liberation Sans", "color": "#000000"}, "encoding": {"text": {"field": "t"}}},
            {"data": {"name": "texts"}, "transform": [{"filter": "datum.p == 2 && datum.r == 'ts'"}], "mark": {"type": "text", "align": "left", "baseline": "alphabetic", "fontSize": 18, "font": "Liberation Sans", "color": "#000000"}, "encoding": {"text": {"field": "t"}}},
            {"data": {"name": "texts"}, "transform": [{"filter": "datum.p == 2 && datum.r == 'yt'"}], "mark": {"type": "text", "align": "left", "baseline": "alphabetic", "angle": 270, "fontSize": 28, "font": "Liberation Sans", "color": "#000000"}, "encoding": {"text": {"field": "t"}}},
            {"data": {"name": "texts"}, "transform": [{"filter": "datum.p == 2 && datum.r == 'ys'"}], "mark": {"type": "text", "align": "left", "baseline": "alphabetic", "angle": 270, "fontSize": 18, "font": "Liberation Sans", "color": "#000000"}, "encoding": {"text": {"field": "t"}}}
          ]
        }
      ]
    },
    {
      "spacing": 0,
      "hconcat": [
        {"width": 314, "height": 10, "view": {"fill": null, "stroke": null}, "data": {"values": [{"a": 1}]}, "mark": {"type": "text"}, "encoding": {"text": {"value": ""}}},
        {
          "width": 533, "height": 499,
          "view": {"fill": "#b0b0b0", "stroke": "#000000", "strokeWidth": 1},
          "encoding": {
            "x": {"field": "x", "type": "quantitative", "scale": {"domain": [-1, 1], "nice": false, "zero": false},
              "axis": {"values": [-1,-0.9,-0.8,-0.7,-0.6,-0.5,-0.4,-0.3,-0.2,-0.1,0,0.1,0.2,0.3,0.4,0.5,0.6,0.7,0.8,0.9,1], "labelExpr": "datum.value % 0.5 == 0 ? toString(datum.value) : ''", "tickSize": {"condition": {"test": "datum.value % 0.5 == 0", "value": -14}, "value": -7}, "tickColor": "#000000", "tickWidth": 1, "labelPadding": 20, "labelFont": "Liberation Sans", "labelFontSize": 18, "labelColor": "#000000", "labelFlush": false, "labelOverlap": false, "labelAngle": 0, "domain": false, "grid": false, "title": null}},
            "y": {"field": "y", "type": "quantitative", "scale": {"domain": [-1, 1], "nice": false, "zero": false},
              "axis": {"values": [-1,-0.9,-0.8,-0.7,-0.6,-0.5,-0.4,-0.3,-0.2,-0.1,0,0.1,0.2,0.3,0.4,0.5,0.6,0.7,0.8,0.9,1], "labelExpr": "datum.value % 0.5 == 0 ? toString(datum.value) : ''", "tickSize": {"condition": {"test": "datum.value % 0.5 == 0", "value": -14}, "value": -7}, "tickColor": "#000000", "tickWidth": 1, "labelPadding": 20, "labelFont": "Liberation Sans", "labelFontSize": 18, "labelColor": "#000000", "labelFlush": false, "labelOverlap": false, "domain": false, "grid": false, "title": null}}
          },
          "layer": [
            {"data": {"name": "region"}, "transform": [{"filter": "datum.p == 3"}], "mark": {"type": "line", "interpolate": "linear-closed", "fill": "#ffffff", "stroke": "#ffffff", "strokeWidth": 0}, "encoding": {"order": {"field": "i", "type": "quantitative"}}},
            {"data": {"name": "boxes"}, "transform": [{"filter": "datum.p == 3"}], "mark": {"type": "rect", "fill": "#ffffff", "strokeWidth": 0}, "encoding": {"x2": {"field": "x2"}, "y2": {"field": "y2"}}},
            {"data": {"name": "zero"}, "mark": {"type": "rule", "stroke": "#444444", "strokeWidth": 1, "strokeDash": [4, 3]}, "encoding": {"x2": {"field": "x2"}, "y2": {"field": "y2"}}},
            {"data": {"name": "ell"}, "transform": [{"filter": "datum.p == 3 && datum.k == 'NRQCD' && datum.f == 'CS'"}], "mark": {"type": "line", "interpolate": "cardinal-closed", "stroke": "#ff0000", "strokeWidth": 2.5, "fill": "#ff0000", "fillOpacity": 0.3}, "encoding": {"detail": {"field": "id"}, "order": {"field": "i", "type": "quantitative"}}},
            {"data": {"name": "ell"}, "transform": [{"filter": "datum.p == 3 && datum.k == 'NRQCD' && datum.f == 'HX'"}], "mark": {"type": "line", "interpolate": "cardinal-closed", "stroke": "#009900", "strokeWidth": 2.5, "fill": "#009900", "fillOpacity": 0.3}, "encoding": {"detail": {"field": "id"}, "order": {"field": "i", "type": "quantitative"}}},
            {"data": {"name": "ell"}, "transform": [{"filter": "datum.p == 3 && datum.k == 'CSM' && datum.f == 'CS'"}], "mark": {"type": "line", "interpolate": "cardinal-closed", "stroke": "#ff0000", "strokeWidth": 1, "fill": "#ff0000"}, "encoding": {"detail": {"field": "id"}, "order": {"field": "i", "type": "quantitative"}}},
            {"data": {"name": "ell"}, "transform": [{"filter": "datum.p == 3 && datum.k == 'CSM' && datum.f == 'HX'"}], "mark": {"type": "line", "interpolate": "cardinal-closed", "stroke": "#009900", "strokeWidth": 1, "fill": "#009900"}, "encoding": {"detail": {"field": "id"}, "order": {"field": "i", "type": "quantitative"}}},
            {"data": {"name": "ell"}, "transform": [{"filter": "datum.p == 3 && (datum.k == 'CL68' || datum.k == 'CL95')"}], "mark": {"type": "line", "interpolate": "cardinal-closed", "strokeWidth": 2.5}, "encoding": {"color": {"field": "f", "type": "nominal", "scale": {"domain": ["CS", "HX"], "range": ["#ff0000", "#009900"]}, "legend": null}, "strokeDash": {"field": "k", "type": "nominal", "scale": {"domain": ["CL68", "CL95"], "range": [[1, 0], [3, 3]]}, "legend": null}, "detail": {"field": "id"}, "order": {"field": "i", "type": "quantitative"}}},
            {"data": {"name": "legbox"}, "transform": [{"filter": "datum.k == 'NRQCD'"}], "mark": {"type": "rect", "fillOpacity": 0.3, "strokeWidth": 2}, "encoding": {"x2": {"field": "x2"}, "y2": {"field": "y2"}, "fill": {"field": "f", "type": "nominal", "scale": {"domain": ["CS", "HX"], "range": ["#ff0000", "#009900"]}, "legend": null}, "stroke": {"field": "f", "type": "nominal", "scale": {"domain": ["CS", "HX"], "range": ["#ff0000", "#009900"]}, "legend": null}}},
            {"data": {"name": "legbox"}, "transform": [{"filter": "datum.k == 'CSM'"}], "mark": {"type": "rect", "strokeWidth": 0}, "encoding": {"x2": {"field": "x2"}, "y2": {"field": "y2"}, "fill": {"field": "f", "type": "nominal", "scale": {"domain": ["CS", "HX"], "range": ["#ff0000", "#009900"]}, "legend": null}}},
            {"data": {"name": "texts"}, "transform": [{"filter": "datum.p == 3 && datum.r == 'leg'"}], "mark": {"type": "text", "align": "left", "baseline": "middle", "fontSize": 22, "font": "Liberation Sans", "color": "#000000"}, "encoding": {"text": {"field": "t"}}},
            {"data": {"name": "texts"}, "transform": [{"filter": "datum.p == 3 && datum.r == 'tt'"}], "mark": {"type": "text", "align": "left", "baseline": "alphabetic", "fontSize": 28, "font": "Liberation Sans", "color": "#000000"}, "encoding": {"text": {"field": "t"}}},
            {"data": {"name": "texts"}, "transform": [{"filter": "datum.p == 3 && datum.r == 'ts'"}], "mark": {"type": "text", "align": "left", "baseline": "alphabetic", "fontSize": 18, "font": "Liberation Sans", "color": "#000000"}, "encoding": {"text": {"field": "t"}}},
            {"data": {"name": "texts"}, "transform": [{"filter": "datum.p == 3 && datum.r == 'yt'"}], "mark": {"type": "text", "align": "left", "baseline": "alphabetic", "angle": 270, "fontSize": 28, "font": "Liberation Sans", "color": "#000000"}, "encoding": {"text": {"field": "t"}}},
            {"data": {"name": "texts"}, "transform": [{"filter": "datum.p == 3 && datum.r == 'ys'"}], "mark": {"type": "text", "align": "left", "baseline": "alphabetic", "angle": 270, "fontSize": 18, "font": "Liberation Sans", "color": "#000000"}, "encoding": {"text": {"field": "t"}}}
          ]
        }
      ]
    }
  ]
}
